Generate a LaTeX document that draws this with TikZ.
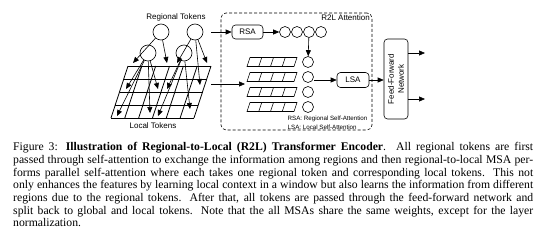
\documentclass[tikz,border=0pt]{standalone}
\usepackage{fontspec}
\setmainfont{Liberation Serif}
\setsansfont{Liberation Sans}
\usetikzlibrary{arrows.meta}
\begin{document}
\begin{tikzpicture}[x=1pt,y=-1pt,
  tok/.style={circle,draw,line width=0.6pt,fill=white,minimum size=16pt,inner sep=0},
  small/.style={circle,draw,line width=0.6pt,fill=white,minimum size=11pt,inner sep=0},
  blk/.style={draw,rounded corners=3.5pt,line width=0.6pt,fill=white,font=\sffamily\fontsize{8}{9}\selectfont,inner sep=0},
  arr/.style={line width=0.6pt,-{Triangle[length=6pt,width=5pt]}},
  gridline/.style={line width=0.8pt},
  cell/.style={line width=0.6pt},
  lbl/.style={font=\sffamily\fontsize{8}{9}\selectfont,inner sep=0},
  legend/.style={font=\sffamily\fontsize{6.2}{7}\selectfont,inner sep=0,anchor=west}]
\useasboundingbox (0,0) rectangle (539,236);

% local token grid
\foreach \v in {0,0.25,0.5,0.75,1}
  \draw[gridline] ({128-17*\v},{66+52*\v}) -- ({211-17*\v},{66+52*\v});
\foreach \u in {0,...,6}
  \draw[gridline] ({128+83*\u/6},66) -- ({111+83*\u/6},118);

% regional tokens
\node[tok] (c1) at (161,32) {};
\node[tok] (c2) at (195,32) {};
\node[tok] (c3) at (148,53) {};
\node[tok] (c4) at (184,53) {};

\coordinate (e11) at (133,63);
\coordinate (e12) at (167,63);
\coordinate (e21) at (177,63);
\coordinate (e22) at (207,63);
\coordinate (e23) at (200,85);
\coordinate (e31) at (126,89);
\coordinate (e32) at (158,89);
\coordinate (e33) at (117,116);
\coordinate (e34) at (150,113);
\coordinate (e41) at (167,89);
\coordinate (e42) at (158,116);
\coordinate (e43) at (190,109);
\draw[arr] (c1) -- (e11);
\draw[arr] (c1) -- (e12);
\draw[arr] (c2) -- (e21);
\draw[arr] (c2) -- (e22);
\draw[arr] (c2) -- (e23);
\draw[arr] (c3) -- (e31);
\draw[arr] (c3) -- (e32);
\draw[arr] (c3) -- (e33);
\draw[arr] (c3) -- (e34);
\draw[arr] (c4) -- (e41);
\draw[arr] (c4) -- (e42);
\draw[arr] (c4) -- (e43);

\node[lbl] (rt) at (176,17) {Regional Tokens};
\node[lbl] (lt) at (153,126) {Local Tokens};

% R2L attention box
\node[draw,dashed,dash pattern=on 3pt off 2pt,rounded corners=5pt,line width=0.6pt,minimum width=151pt,minimum height=117pt,inner sep=0] (r2l) at (296.5,71.5) {};
\node[lbl,anchor=east] (r2lt) at (370,17.5) {R2L Attention};

\node[blk,minimum width=31pt,minimum height=14pt] (rsa) at (247.5,32) {RSA};
\coordinate (in1) at (211,32);
\draw[arr] (in1) -- (rsa);

\node[small] (t1) at (285,32) {};
\node[small] (t2) at (297,32) {};
\node[small] (t3) at (309,32) {};
\node[small] (t4) at (321,32) {};
\draw[arr] (rsa) -- (t1);

% local token strips
\foreach \y in {62,77,92,107}{
  \draw[cell] (247,\y+4.5) -- (294,\y+4.5) -- (297,\y-4.5) -- (250,\y-4.5) -- cycle;
  \foreach \i in {1,2,3}
    \draw[cell] ({247+11.75*\i},\y+4.5) -- ({250+11.75*\i},\y-4.5);
}
\node[small] (k1) at (308,62) {};
\node[small] (k2) at (308,77) {};
\node[small] (k3) at (308,92) {};
\node[small] (k4) at (308,107) {};
\draw[arr] (t3) -- (k1);

\coordinate (in2) at (211,84);
\coordinate (in2e) at (245,84);
\draw[arr] (in2) -- (in2e);

\node[blk,minimum width=32pt,minimum height=15pt] (lsa) at (353,80) {LSA};
\draw[arr] (k2.east |- lsa) -- (lsa.west);

\node[legend] (lg1) at (287.5,119) {RSA: Regional Self-Attention};
\node[legend] (lg2) at (287.5,127) {LSA: Local Self-Attention};

% feed-forward network
\node[blk,minimum width=24pt,minimum height=80pt] (ffn) at (396,79) {};
\node[lbl,rotate=90,align=center,font=\sffamily\fontsize{8}{10}\selectfont] (ffnt) at (ffn) {Feed-Forward\\Network};
\draw[arr] (lsa.east) -- (lsa.east -| ffn.west);
\coordinate (o1) at (425,53);
\coordinate (o2) at (425,99);
\draw[arr] (ffn.east |- o1) -- (o1);
\draw[arr] (ffn.east |- o2) -- (o2);

% caption
\node[anchor=north west,inner sep=0,text width=520pt,align=justify] (cap) at (13,142.5) {%
\fontsize{11.7}{12.67}\selectfont
Figure 3: \textbf{Illustration of Regional-to-Local (R2L) Transformer Encoder}. All regional tokens are first\linebreak
passed through self-attention to exchange the information among regions and then regional-to-local MSA per-\linebreak
forms parallel self-attention where each takes one regional token and corresponding local tokens. This not\linebreak
only enhances the features by learning local context in a window but also learns the information from different\linebreak
regions due to the regional tokens. After that, all tokens are passed through the feed-forward network and\linebreak
split back to global and local tokens. Note that the all MSAs share the same weights, except for the layer\linebreak
normalization.\par};
\end{tikzpicture}
\end{document}
